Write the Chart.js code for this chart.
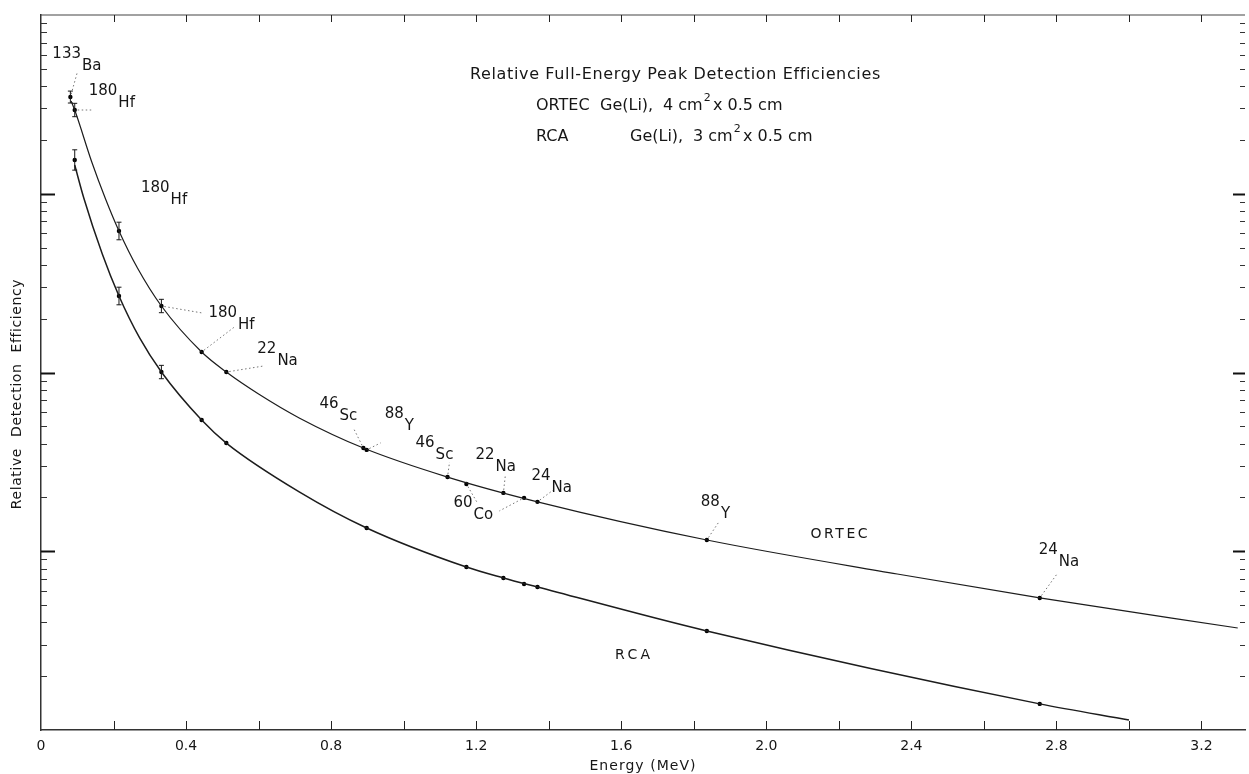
<!DOCTYPE html>
<html>
<head>
<meta charset="utf-8">
<script src="https://cdn.jsdelivr.net/npm/chart.js@4.4.1/dist/chart.umd.min.js"></script>
<style>
html,body{margin:0;padding:0;background:#fff;}
#c{display:block;}
</style>
</head>
<body>
<canvas id="c" width="1249" height="774"></canvas>
<script>
// ---------------- data ----------------
const ortecEnergy = [0.081, 0.093, 0.215, 0.332, 0.443, 0.511, 0.889, 0.898, 1.121, 1.173, 1.275, 1.332, 1.369, 1.836, 2.754];
const ortecEfficiency = [3475, 2941, 619, 235.5, 130.2, 100.6, 37.8, 36.9, 26.0, 23.8, 21.2, 19.9, 18.9, 11.56, 5.48];
const ortecErrorPct = [8, 9, 12, 9, 0, 0, 0, 0, 0, 0, 0, 0, 0, 0, 0];
const ortecIsotope = ['133Ba', '180Hf', '180Hf', '180Hf', '180Hf', '22Na', '46Sc', '88Y', '46Sc', '60Co', '22Na', '60Co', '24Na', '88Y', '24Na'];

const ortecCurveEnergy = [0.083, 0.093, 0.140, 0.178, 0.215, 0.266, 0.332, 0.443, 0.511, 0.600, 0.712, 0.889, 1.121, 1.369, 1.836, 2.361, 2.754, 3.300];
const ortecCurveEfficiency = [3303, 2941, 1505, 934.6, 619, 384.2, 235.5, 130.2, 100.6, 75.8, 55.7, 37.8, 26.0, 18.9, 11.56, 7.46, 5.48, 3.72];

const rcaEnergy = [0.093, 0.215, 0.332, 0.443, 0.511, 0.898, 1.173, 1.275, 1.332, 1.369, 1.836, 2.754];
const rcaEfficiency = [1545, 267.9, 100.6, 54.2, 40.3, 13.5, 8.16, 7.09, 6.56, 6.31, 3.58, 1.40];
const rcaErrorPct = [14, 12, 9, 0, 0, 0, 0, 0, 0, 0, 0, 0];

const rcaCurveEnergy = [0.093, 0.118, 0.169, 0.215, 0.272, 0.332, 0.443, 0.511, 0.712, 0.898, 1.173, 1.275, 1.369, 1.836, 2.754, 3.000];
const rcaCurveEfficiency = [1448, 946.7, 460.1, 267.9, 156.0, 100.6, 54.2, 40.3, 21.5, 13.5, 8.16, 7.09, 6.31, 3.58, 1.40, 1.137];

const energyTickLabels = ['0', '0.4', '0.8', '1.2', '1.6', '2.0', '2.4', '2.8', '3.2'];
const seriesNames = ['ORTEC', 'RCA'];
const titleLines = ['Relative Full-Energy Peak Detection Efficiencies'];
const detectorSpecs = [['ORTEC', 'Ge(Li),', '4 cm', '2', 'x 0.5 cm'], ['RCA', 'Ge(Li),', '3 cm', '2', 'x 0.5 cm']];
const xAxisTitle = 'Energy (MeV)';
const yAxisTitle = 'Relative Detection Efficiency';

// ---------------- layout / style (not data) ----------------
const FAM = '"DejaVu Sans", sans-serif';
const INK = '#161616';
// isotope label placement: offsets in px from the anchor point, leaders [pointIndex, endDx, endDy]
const isoLayout = [
  {at: 0, tx: -18, ty: -43, leaders: [[0, 7, -25]]},
  {at: 1, tx: 14, ty: -19, leaders: [[1, 17, 0]]},
  {at: 2, tx: 22, ty: -43, leaders: []},
  {at: 3, tx: 47, ty: 7, leaders: [[3, 41, 7], [4, 73, 21]]},
  {at: 5, tx: 31, ty: -23, leaders: [[5, 37, -6]]},
  {at: 6, tx: -44, ty: -44, leaders: [[6, -10, -20]]},
  {at: 7, tx: 18, ty: -36, leaders: [[7, 14, -7]]},
  {at: 8, tx: -32, ty: -34, leaders: [[8, 2, -15]]},
  {at: 10, tx: -28, ty: -38, leaders: [[10, 2, -18]]},
  {at: 9, tx: -13, ty: 19, leaders: [[9, 11, 19], [11, 33, 27]]},
  {at: 12, tx: -6, ty: -26, leaders: [[12, 16, -12]]},
  {at: 13, tx: -6, ty: -38, leaders: [[13, 12, -18]]},
  {at: 14, tx: -1, ty: -48, leaders: [[14, 18, -25]]}
];
const nameLayout = [{x: 2.122, y: 12.49, w: 57}, {x: 1.583, y: 2.63, w: 35}];

const pts = (xs, ys) => xs.map((e, i) => ({x: e, y: ys[i]}));

function textFit(ctx, text, x, y, px, width) {
  ctx.font = px + 'px ' + FAM;
  ctx.letterSpacing = '0px';
  let ls = 0;
  if (width) {
    const w = ctx.measureText(text).width;
    ls = (width - w) / Math.max(1, text.length - 1);
  }
  ctx.letterSpacing = ls + 'px';
  ctx.fillText(text, x, y);
  const adv = ctx.measureText(text).width;
  ctx.letterSpacing = '0px';
  return adv;
}

function seg(ctx, x1, y1, x2, y2) {
  ctx.beginPath(); ctx.moveTo(x1, y1); ctx.lineTo(x2, y2); ctx.stroke();
}

const overlay = {
  id: 'overlay',
  afterDraw(chart) {
    const {ctx, chartArea: a, scales: {x, y}} = chart;
    ctx.save();
    // top frame line
    ctx.strokeStyle = '#444'; ctx.lineWidth = 1.2;
    seg(ctx, a.left, a.top, a.right, a.top);

    // inward x ticks every 0.2 MeV
    ctx.strokeStyle = '#222'; ctx.lineWidth = 1;
    x.ticks.forEach(t => {
      const r = t.value / 0.2;
      if (Math.abs(r - Math.round(r)) > 1e-6) return;
      const px = Math.round(x.getPixelForValue(t.value)) + 0.5;
      if (t.value > 0) { seg(ctx, px, a.bottom, px, a.bottom - 9); seg(ctx, px, a.top, px, a.top + 7); }
    });

    // inward y ticks (log decades)
    const e0 = Math.round(Math.log10(y.min)), e1 = Math.round(Math.log10(y.max));
    for (let e = e0; e < e1; e++) {
      for (let m = 1; m <= 9; m++) {
        const v = m * Math.pow(10, e);
        const py = Math.round(y.getPixelForValue(v)) + 0.5;
        const major = m === 1;
        ctx.lineWidth = major ? 2 : 1;
        ctx.strokeStyle = major ? '#111' : '#333';
        if (v > y.min) {
          seg(ctx, a.left, py, a.left + (major ? 14 : 6), py);
          seg(ctx, a.right, py, a.right - (major ? 12 : 5), py);
        }
      }
    }

    // error bars
    ctx.strokeStyle = INK; ctx.lineWidth = 1;
    const drawErr = (es, vs, ps) => es.forEach((e, i) => {
      if (!ps[i]) return;
      const f = 1 + ps[i] / 100;
      const px = x.getPixelForValue(e);
      const p1 = y.getPixelForValue(vs[i] * f), p2 = y.getPixelForValue(vs[i] / f);
      seg(ctx, px, p1, px, p2);
      seg(ctx, px - 2.5, p1, px + 2.5, p1);
      seg(ctx, px - 2.5, p2, px + 2.5, p2);
    });
    drawErr(ortecEnergy, ortecEfficiency, ortecErrorPct);
    drawErr(rcaEnergy, rcaEfficiency, rcaErrorPct);

    // isotope labels with dotted leaders
    const P = i => ({x: x.getPixelForValue(ortecEnergy[i]), y: y.getPixelForValue(ortecEfficiency[i])});
    isoLayout.forEach(L => {
      const anc = P(L.at);
      ctx.setLineDash([1.5, 2.5]); ctx.strokeStyle = '#666'; ctx.lineWidth = 0.9;
      L.leaders.forEach(([idx, dx, dy]) => {
        const s = P(idx), ex = anc.x + dx, ey = anc.y + dy;
        const len = Math.hypot(ex - s.x, ey - s.y) || 1;
        seg(ctx, s.x + (ex - s.x) / len * 3, s.y + (ey - s.y) / len * 3, ex, ey);
      });
      ctx.setLineDash([]);
      const iso = ortecIsotope[L.at];
      const mass = iso.match(/^\d+/)[0], el = iso.slice(mass.length);
      ctx.fillStyle = INK; ctx.textAlign = 'left'; ctx.textBaseline = 'middle';
      ctx.font = '15px ' + FAM;
      const w = ctx.measureText(mass).width;
      ctx.fillText(mass, anc.x + L.tx, anc.y + L.ty);
      ctx.fillText(el, anc.x + L.tx + w + 1, anc.y + L.ty + 12);
    });

    // series names on the curves
    ctx.fillStyle = INK; ctx.textAlign = 'left'; ctx.textBaseline = 'middle';
    nameLayout.forEach((n, i) => {
      textFit(ctx, seriesNames[i], x.getPixelForValue(n.x), y.getPixelForValue(n.y), 14, n.w);
    });

    // title block
    textFit(ctx, titleLines[0], 470, 75, 16, 410);
    const specX = [[536, 600, 663, null, 713], [536, 630, 693, null, 743]];
    const specY = [106, 137];
    detectorSpecs.forEach((parts, r) => {
      let endCm = 0;
      parts.forEach((p, k) => {
        if (k === 3) {
          ctx.font = '11px ' + FAM;
          ctx.fillText(p, endCm + 1, specY[r] - 8);
        } else {
          const adv = textFit(ctx, p, specX[r][k], specY[r], 16, 0);
          if (k === 2) endCm = specX[r][k] + adv;
        }
      });
    });

    // axis titles
    ctx.textAlign = 'center';
    textFit(ctx, xAxisTitle, (a.left + a.right) / 2, 766, 14, 106);
    ctx.translate(17, 394);
    ctx.rotate(-Math.PI / 2);
    ctx.font = '14px ' + FAM;
    ctx.letterSpacing = '0.6px';
    ctx.wordSpacing = '6px';
    ctx.fillText(yAxisTitle, 0, 0);
    ctx.restore();
  }
};

new Chart(document.getElementById('c'), {
  type: 'scatter',
  data: {
    datasets: [
      {label: seriesNames[0] + ' curve', data: pts(ortecCurveEnergy, ortecCurveEfficiency), showLine: true,
       borderColor: '#1c1c1c', borderWidth: 1.2, pointRadius: 0, cubicInterpolationMode: 'monotone', fill: false},
      {label: seriesNames[1] + ' curve', data: pts(rcaCurveEnergy, rcaCurveEfficiency), showLine: true,
       borderColor: '#1c1c1c', borderWidth: 1.5, pointRadius: 0, cubicInterpolationMode: 'monotone', fill: false},
      {label: seriesNames[0], data: pts(ortecEnergy, ortecEfficiency), showLine: false,
       pointRadius: 2.2, pointBackgroundColor: '#000', pointBorderWidth: 0},
      {label: seriesNames[1], data: pts(rcaEnergy, rcaEfficiency), showLine: false,
       pointRadius: 2.2, pointBackgroundColor: '#000', pointBorderWidth: 0}
    ]
  },
  options: {
    responsive: false, animation: false, devicePixelRatio: 1,
    layout: {padding: {top: 15, right: 1, left: 0, bottom: 0}},
    plugins: {legend: {display: false}, tooltip: {enabled: false}},
    scales: {
      x: {
        type: 'linear', min: 0, max: 3.32,
        afterFit: s => { s.height = 44; s.paddingLeft = 0; s.paddingRight = 0; },
        grid: {display: false, drawTicks: false},
        border: {display: true, color: '#333', width: 1.5},
        ticks: {
          stepSize: 0.2, autoSkip: false, includeBounds: false, maxRotation: 0, padding: 8, color: INK,
          font: {family: FAM, size: 14},
          callback: v => {
            const r = v / 0.4;
            const k = Math.round(r);
            return Math.abs(r - k) < 1e-6 && k < energyTickLabels.length ? energyTickLabels[k] : '';
          }
        }
      },
      y: {
        type: 'logarithmic', min: 1, max: 10000,
        afterFit: s => { s.width = 41; s.paddingTop = 0; s.paddingBottom = 0; },
        grid: {display: false, drawTicks: false},
        border: {display: true, color: '#333', width: 1.5},
        ticks: {display: false}
      }
    }
  },
  plugins: [overlay]
});
</script>
</body>
</html>
